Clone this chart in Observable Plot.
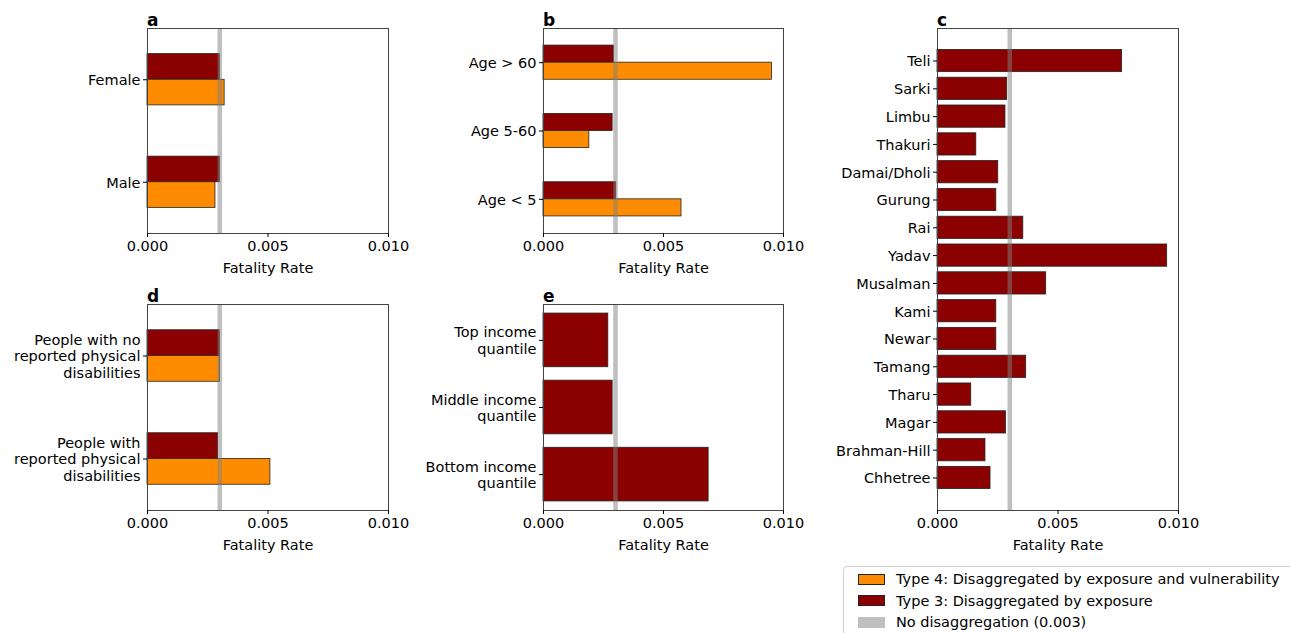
<!DOCTYPE html>
<html>
<head>
<meta charset="utf-8">
<script src="https://cdn.jsdelivr.net/npm/d3@7"></script>
<script src="https://cdn.jsdelivr.net/npm/@observablehq/plot@0.6"></script>
<style>
  html, body { margin: 0; padding: 0; background: white; }
  #wrap { position: relative; width: 1290px; height: 633px; overflow: hidden; font-family: "DejaVu Sans", sans-serif; }
  .letter { position: absolute; font-weight: bold; font-size: 17px; line-height: 1; }
  #legend { position: absolute; left: 843px; top: 566px; width: 460px; height: 80px; border: 1px solid #d0d0d0; border-radius: 4px; background: white; font-size: 14.5px; }
  .row { position: absolute; left: 14px; height: 14px; display: flex; align-items: center; }
  .sw { width: 27px; height: 11px; box-sizing: border-box; margin-right: 11px; }
</style>
</head>
<body>
<div id="wrap"></div>
<script>
// ---- data ----
const sexCats = ["Female", "Male"];
const sexT3 = [0.0030, 0.0030];
const sexT4 = [0.0032, 0.00282];

const ageCats = ["Age > 60", "Age 5-60", "Age < 5"];
const ageT3 = [0.00293, 0.00288, 0.00303];
const ageT4 = [0.00952, 0.00191, 0.00575];

const casteCats = ["Teli", "Sarki", "Limbu", "Thakuri", "Damai/Dholi", "Gurung", "Rai", "Yadav",
  "Musalman", "Kami", "Newar", "Tamang", "Tharu", "Magar", "Brahman-Hill", "Chhetree"];
const casteT3 = [0.00766, 0.00289, 0.00282, 0.00161, 0.00252, 0.00244, 0.00356, 0.00953,
  0.00451, 0.00244, 0.00244, 0.00368, 0.00140, 0.00284, 0.00199, 0.00220];

const disabCats = ["People with no\nreported physical\ndisabilities", "People with\nreported physical\ndisabilities"];
const disabT3 = [0.0030, 0.00293];
const disabT4 = [0.0030, 0.0051];

const incomeCats = ["Top income\nquantile", "Middle income\nquantile", "Bottom income\nquantile"];
const incomeT3 = [0.0027, 0.00288, 0.00688];

const baseline = 0.003;
const xTicks = [0, 0.005, 0.010];
const xLabel = "Fatality Rate";
const legendItems = [
  {label: "Type 4: Disaggregated by exposure and vulnerability", color: "#ff8c00", border: true},
  {label: "Type 3: Disaggregated by exposure", color: "#8b0000", border: true},
  {label: "No disaggregation (0.003)", color: "#bfbfbf", border: false}
];

const C3 = "#8b0000", C4 = "#ff8c00";
const wrap = document.getElementById("wrap");

function panel({letter, cats, t3, t4, box, frame, padIn, padOut}) {
  const [sl, st, sw, sh] = box;
  const [x0, x1, y0, y1] = frame;
  const rows = cats.map((c, i) => ({cat: c, t3: t3[i], t4: t4 ? t4[i] : null}));
  const yb = d3.scaleBand(cats, [y0, y1]).paddingInner(padIn).paddingOuter(padOut);
  const half = yb.bandwidth() / 2;
  const marks = [];
  if (t4) {
    marks.push(Plot.barX(rows, {y: "cat", x1: 0, x2: "t3", fill: C3, stroke: "#222", strokeWidth: 0.8, insetBottom: half}));
    marks.push(Plot.barX(rows, {y: "cat", x1: 0, x2: "t4", fill: C4, stroke: "#222", strokeWidth: 0.8, insetTop: half}));
  } else {
    marks.push(Plot.barX(rows, {y: "cat", x1: 0, x2: "t3", fill: C3, stroke: "#222", strokeWidth: 0.8}));
  }
  marks.push(Plot.ruleX([baseline], {stroke: "gray", strokeOpacity: 0.5, strokeWidth: 4.5}));
  marks.push(Plot.frame({stroke: "#444", strokeWidth: 1}));
  marks.push(Plot.axisX({ticks: xTicks, tickFormat: d3.format(".3f"), tickSize: 4, tickPadding: 3,
    label: xLabel, labelAnchor: "center", labelOffset: 39, labelArrow: "none"}));
  marks.push(Plot.axisY({tickSize: 4, tickPadding: 3, label: null, lineHeight: 1.15}));
  const svg = Plot.plot({
    width: sw, height: sh,
    marginLeft: x0 - sl, marginRight: sl + sw - x1,
    marginTop: y0 - st, marginBottom: st + sh - y1,
    x: {domain: [0, 0.01]},
    y: {domain: cats, paddingInner: padIn, paddingOuter: padOut, round: false},
    style: {background: "transparent", fontFamily: "DejaVu Sans", fontSize: "14.5px", color: "black", overflow: "visible"},
    marks
  });
  svg.style.position = "absolute";
  svg.style.left = sl + "px";
  svg.style.top = st + "px";
  svg.style.maxWidth = "none";
  wrap.appendChild(svg);
  const l = document.createElement("div");
  l.className = "letter";
  l.textContent = letter;
  l.style.left = (x0) + "px";
  l.style.top = (y0 - 16) + "px";
  wrap.appendChild(l);
}

panel({letter: "a", cats: sexCats, t3: sexT3, t4: sexT4, box: [0, 0, 420, 280], frame: [147, 388, 28, 233], padIn: 0.5, padOut: 0.25});
panel({letter: "b", cats: ageCats, t3: ageT3, t4: ageT4, box: [420, 0, 400, 280], frame: [543, 783, 28, 233], padIn: 0.5, padOut: 0.25});
panel({letter: "c", cats: casteCats, t3: casteT3, t4: null, box: [820, 0, 420, 560], frame: [937, 1178, 28, 510], padIn: 0.2, padOut: 0.77});
panel({letter: "d", cats: disabCats, t3: disabT3, t4: disabT4, box: [0, 280, 420, 290], frame: [147, 388, 304, 510], padIn: 0.5, padOut: 0.25});
panel({letter: "e", cats: incomeCats, t3: incomeT3, t4: null, box: [420, 280, 400, 290], frame: [543, 783, 304, 510], padIn: 0.2, padOut: 0.135});

// legend
const lg = document.createElement("div");
lg.id = "legend";
legendItems.forEach((it, i) => {
  const r = document.createElement("div");
  r.className = "row";
  r.style.top = (5 + i * 21.5) + "px";
  const s = document.createElement("div");
  s.className = "sw";
  s.style.background = it.color;
  s.style.border = it.border ? "1px solid #222" : "none";
  const t = document.createElement("span");
  t.textContent = it.label;
  r.appendChild(s); r.appendChild(t);
  lg.appendChild(r);
});
wrap.appendChild(lg);
</script>
</body>
</html>
